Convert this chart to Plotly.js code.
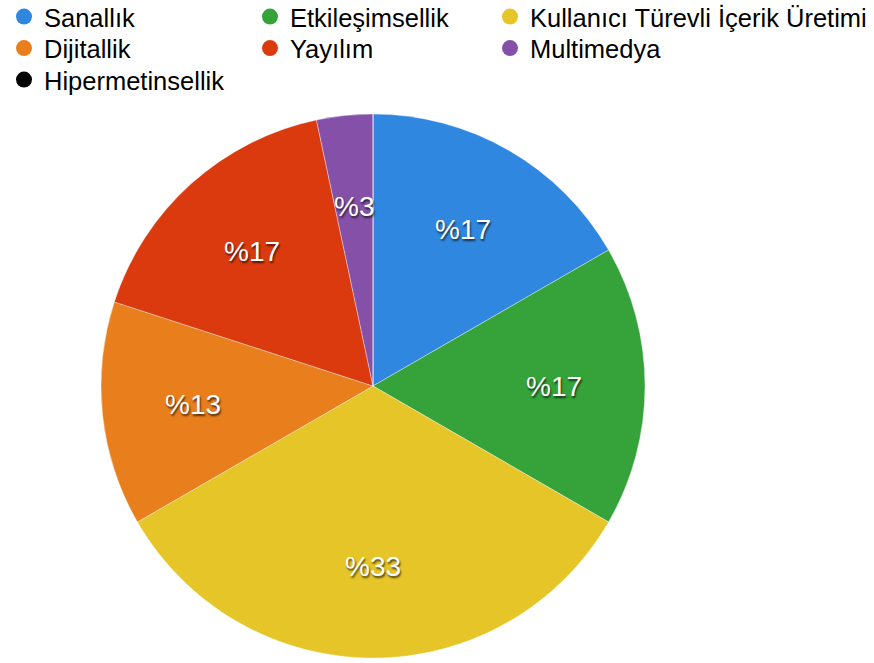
<!DOCTYPE html>
<html>
<head>
<meta charset="utf-8">
<script src="https://cdn.plot.ly/plotly-3.0.1.min.js"></script>
<style>html,body{margin:0;padding:0;background:#fff;}#chart{width:874px;height:663px;}</style>
</head>
<body>
<div id="chart"></div>
<script>
const categories = ["Sanallık", "Etkileşimsellik", "Kullanıcı Türevli İçerik Üretimi", "Dijitallik", "Yayılım", "Multimedya", "Hipermetinsellik"];
const counts = [5, 5, 10, 4, 5, 1, 0];
const colors = ["#2F87E0", "#35A23A", "#E6C528", "#E97E1C", "#DB3A0E", "#8550A8", "#000000"];

const W = 874, H = 663;
const total = counts.reduce((a, b) => a + b, 0);
const labelsText = counts.map(v => v > 0 ? "%" + Math.round(v / total * 100) : "");

const FONT = "Liberation Sans, Arial, Helvetica, sans-serif";

// pie placement (pixels)
const pieLeft = 101, pieRight = 645, pieTop = 114, pieBottom = 658;
const dom = { x: [pieLeft / W, pieRight / W], y: [1 - pieBottom / H, 1 - pieTop / H] };
const cx = (pieLeft + pieRight) / 2, cy = (pieTop + pieBottom) / 2, R = (pieRight - pieLeft) / 2;

const pie = {
  type: "pie",
  labels: categories,
  values: counts,
  textinfo: "none",
  sort: false,
  direction: "clockwise",
  rotation: 0,
  domain: dom,
  marker: { colors: colors, line: { color: "rgba(255,255,255,0.6)", width: 0.6 } },
  showlegend: false,
  hoverinfo: "label+percent"
};

// labels at mid-angle of each slice
const annotations = [];
let cum = 0;
counts.forEach((v, i) => {
  if (v > 0) {
    const mid = (cum + v / 2) / total * 2 * Math.PI;
    const px = cx + 0.665 * R * Math.sin(mid);
    const py = cy - 0.665 * R * Math.cos(mid);
    annotations.push({
      x: px / W, y: 1 - py / H, xref: "paper", yref: "paper",
      text: labelsText[i], showarrow: false, xanchor: "center", yanchor: "middle",
      font: { family: FONT, size: 28, color: "#ffffff", shadow: "1px 2px 2px rgba(0,0,0,0.65)" }
    });
  }
  cum += v;
});

// legend grid: 3 columns, rows of 3
const colX = [4, 250, 490];
const rowY = [17, 48.5, 80];

const legendTraces = categories.map((c, i) => ({
  type: "scatter",
  mode: "markers",
  x: [null], y: [null],
  name: c,
  legend: i === 0 ? "legend" : "legend" + (i + 1),
  marker: { color: colors[i], size: 19, symbol: "circle" },
  showlegend: true,
  hoverinfo: "skip"
}));

const layout = {
  width: W, height: H,
  margin: { l: 0, r: 0, t: 0, b: 0, autoexpand: false },
  paper_bgcolor: "#ffffff",
  plot_bgcolor: "#ffffff",
  font: { family: FONT, color: "#000000" },
  xaxis: { visible: false, showgrid: false, zeroline: false, domain: [0, 1] },
  yaxis: { visible: false, showgrid: false, zeroline: false, domain: [0, 1] },
  showlegend: true,
  annotations: annotations
};

categories.forEach((c, i) => {
  const key = i === 0 ? "legend" : "legend" + (i + 1);
  layout[key] = {
    orientation: "v",
    xref: "paper", yref: "paper",
    x: colX[i % 3] / W, y: 1 - rowY[Math.floor(i / 3)] / H,
    xanchor: "left", yanchor: "middle",
    font: { family: FONT, size: 25.5, color: "#000000" },
    itemsizing: "trace",
    bgcolor: "rgba(0,0,0,0)",
    borderwidth: 0
  };
});

Plotly.newPlot("chart", [pie].concat(legendTraces), layout, { displayModeBar: false, staticPlot: true });
</script>
</body>
</html>
